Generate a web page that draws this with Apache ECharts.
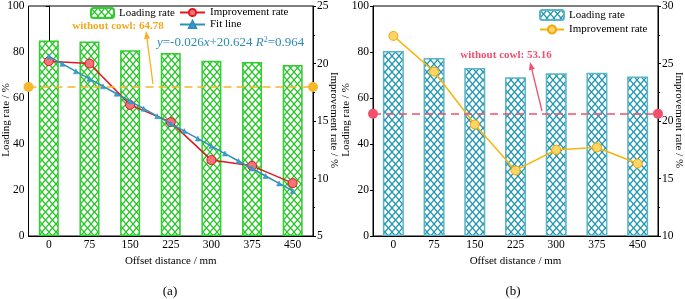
<!DOCTYPE html>
<html>
<head>
<meta charset="utf-8">
<script src="https://cdn.jsdelivr.net/npm/echarts@6/dist/echarts.min.js"></script>
<style>
  html, body { margin: 0; padding: 0; background: #fff; }
  #chart { width: 685px; height: 299px; }
</style>
</head>
<body>
<div id="chart"></div>
<script>
// offsets along x (mm)
const offsets = ['0', '75', '150', '225', '300', '375', '450'];

// (a) loading rate (%) and improvement rate (%)
const loadingA = [85.0, 84.6, 80.8, 79.6, 76.2, 75.6, 74.3];
const improveA = [20.2, 20.0, 16.4, 14.9, 11.6, 11.1, 9.6];
// fit line y=-0.026x+20.624, read at 25 mm steps
const fitX = [0, 25, 50, 75, 100, 125, 150, 175, 200, 225, 250, 275, 300, 325, 350, 375, 400, 425, 450];
const fitY = [20.62, 19.97, 19.32, 18.67, 18.02, 17.37, 16.72, 16.07, 15.42, 14.77, 14.12, 13.47, 12.82, 12.17, 11.52, 10.87, 10.22, 9.57, 8.92];
const baseA = 64.78;

// (b)
const loadingB = [80.4, 77.4, 73.0, 69.0, 70.8, 71.0, 69.4];
const improveB = [27.4, 24.3, 19.7, 15.7, 17.5, 17.7, 16.3];
const baseB = 53.16;

const font = 'Liberation Serif';
const names = {
  loadA: 'Loading rate', impA: 'Improvement rate', fitA: 'Fit line',
  loadB: 'Loading rate', impB: 'Improvement rate'
};

// cross hatch tile used as bar fill
function hatch(color) {
  const w = 7, h = 8;
  const c = document.createElement('canvas');
  c.width = w; c.height = h;
  const ctx = c.getContext('2d');
  ctx.fillStyle = '#fff';
  ctx.fillRect(0, 0, w, h);
  ctx.strokeStyle = color;
  ctx.lineWidth = 1.3;
  ctx.beginPath();
  ctx.moveTo(-w, -h); ctx.lineTo(2 * w, 2 * h);
  ctx.moveTo(2 * w, -h); ctx.lineTo(-w, 2 * h);
  ctx.stroke();
  return { image: c, repeat: 'repeat' };
}

function arrow(x1, y1, x2, y2, color) {
  const dx = x2 - x1, dy = y2 - y1;
  const len = Math.sqrt(dx * dx + dy * dy);
  const ux = dx / len, uy = dy / len;
  const bx = x2 - ux * 8, by = y2 - uy * 8;
  return [
    { type: 'line', shape: { x1: x1, y1: y1, x2: bx, y2: by }, style: { stroke: color, lineWidth: 1.3 } },
    { type: 'polygon', shape: { points: [[x2, y2], [bx - uy * 3, by + ux * 3], [bx + uy * 3, by - ux * 3]] }, style: { fill: color } }
  ];
}

// rotated axis titles
function vText(text, x, rot) {
  return {
    type: 'text', x: x, y: 120, rotation: rot,
    style: { text: text, fontFamily: font, fontSize: 11, fill: '#000', align: 'center', verticalAlign: 'middle' }
  };
}

const chart = echarts.init(document.getElementById('chart'));

const axisLine = { show: true, lineStyle: { color: '#000', width: 1 } };
const labelStyle = { color: '#000', fontFamily: font, fontSize: 11.5 };
const nameStyle = { color: '#000', fontFamily: font, fontSize: 11 };

function catAxis(grid) {
  return {
    type: 'category', gridIndex: grid, data: offsets,
    axisLine: axisLine, axisTick: { show: false },
    axisLabel: Object.assign({ margin: 3 }, labelStyle),
    name: 'Offset distance / mm', nameLocation: 'middle', nameGap: 18, nameTextStyle: nameStyle
  };
}
function leftAxis(grid) {
  return {
    type: 'value', gridIndex: grid, min: 0, max: 100, interval: 20, position: 'left',
    axisLine: axisLine, axisTick: { show: true, length: 3, lineStyle: { color: '#000' } },
    splitLine: { show: false },
    axisLabel: Object.assign({ margin: 4 }, labelStyle)
  };
}
function rightAxis(grid, min, max) {
  return {
    type: 'value', gridIndex: grid, min: min, max: max, interval: 5, position: 'right',
    axisLine: axisLine, axisTick: { show: true, length: 3, lineStyle: { color: '#000' } },
    minorTick: { show: true, splitNumber: 2, length: 2, lineStyle: { color: '#000' } },
    splitLine: { show: false },
    axisLabel: Object.assign({ margin: 4 }, labelStyle)
  };
}

const legendText = { fontFamily: font, fontSize: 11, color: '#000' };

const option = {
  animation: false,
  backgroundColor: '#fff',
  grid: [
    { left: 28.5, right: 372, top: 4, bottom: 63, show: true, borderColor: '#000', borderWidth: 1 },
    { left: 373, right: 27, top: 4, bottom: 63, show: true, borderColor: '#000', borderWidth: 1 }
  ],
  xAxis: [
    catAxis(0),
    { type: 'value', gridIndex: 0, min: -37.5, max: 487.5, show: false },
    catAxis(1)
  ],
  yAxis: [leftAxis(0), rightAxis(0, 5, 25), leftAxis(1), rightAxis(1, 10, 30)],
  legend: [
    {
      data: ['loadA'], left: 90, top: 7, padding: 0, itemWidth: 23, itemHeight: 10,
      formatter: n => names[n], textStyle: legendText
    },
    {
      data: ['impA', 'fitA'], orient: 'vertical', left: 179, top: 7, padding: 0, itemWidth: 25, itemHeight: 9, itemGap: 1,
      formatter: n => names[n], textStyle: legendText
    },
    {
      data: ['loadB', 'impB'], orient: 'vertical', left: 539, top: 9, padding: 0, itemWidth: 24, itemHeight: 10, itemGap: 3,
      formatter: n => names[n], textStyle: legendText
    }
  ],
  series: [
    {
      name: 'loadA', type: 'bar', xAxisIndex: 0, yAxisIndex: 0, data: loadingA, barWidth: 20,
      itemStyle: { color: hatch('#27c427'), borderColor: '#2fcf2f', borderWidth: 1.5 },
      markLine: {
        silent: true, symbol: ['circle', 'circle'], symbolSize: 10,
        label: { show: false },
        lineStyle: { color: '#f6b72a', type: [8, 5], width: 1.5 },
        itemStyle: { color: '#f0a812', borderColor: '#c88a00', borderWidth: 1 },
        data: [{ yAxis: baseA }]
      }
    },
    {
      name: 'impA', type: 'line', xAxisIndex: 0, yAxisIndex: 1, data: improveA, z: 4,
      symbol: 'circle', symbolSize: 9,
      lineStyle: { color: '#e0191c', width: 1.5 },
      itemStyle: { color: '#f5727c', borderColor: '#e0191c', borderWidth: 1 }
    },
    {
      name: 'fitA', type: 'line', xAxisIndex: 1, yAxisIndex: 1, z: 5,
      data: fitX.map((x, i) => [x, fitY[i]]),
      symbol: 'triangle', symbolSize: 5,
      lineStyle: { color: '#2f8fb9', width: 1.5 },
      itemStyle: { color: '#3d9ccc', borderColor: '#2f8fb9', borderWidth: 0.5 }
    },
    {
      name: 'loadB', type: 'bar', xAxisIndex: 2, yAxisIndex: 2, data: loadingB, barWidth: 21,
      itemStyle: { color: hatch('#2096ae'), borderColor: '#5ab4c8', borderWidth: 1.5 },
      markLine: {
        silent: true, symbol: ['circle', 'circle'], symbolSize: 10,
        label: { show: false },
        lineStyle: { color: '#f2506c', type: [8, 5], width: 1.5 },
        itemStyle: { color: '#f23a50', borderColor: '#d12035', borderWidth: 1 },
        data: [{ yAxis: baseB }]
      }
    },
    {
      name: 'impB', type: 'line', xAxisIndex: 2, yAxisIndex: 3, data: improveB, z: 4,
      symbol: 'circle', symbolSize: 9,
      lineStyle: { color: '#f5b50a', width: 1.5 },
      itemStyle: { color: '#fcd467', borderColor: '#f0a800', borderWidth: 1 }
    }
  ],
  graphic: [
    vText('Loading rate / %', 6, Math.PI / 2),
    vText('Improvement rate / %', 334, -Math.PI / 2),
    vText('Loading rate / %', 346, Math.PI / 2),
    vText('Improvement rate / %', 679, -Math.PI / 2),
    {
      type: 'text', x: 118, y: 26,
      style: { text: 'without cowl: 64.78', fontFamily: font, fontSize: 11, fontWeight: 'bold', fill: '#f2a81d', align: 'center', verticalAlign: 'middle' }
    },
    {
      type: 'text', x: 157, y: 43,
      style: {
        text: '{i|y}=-0.026{i|x}+20.624 {i|R}{s|2}=0.964',
        fontFamily: font, fontSize: 13, fill: '#2d8bb5', verticalAlign: 'middle',
        rich: {
          i: { fontFamily: font, fontSize: 13, fontStyle: 'italic', fill: '#2d8bb5' },
          s: { fontFamily: font, fontSize: 8, fill: '#2d8bb5', verticalAlign: 'top', padding: [0, 0, 6, 0] }
        }
      }
    },
    { type: 'group', children: arrow(153, 84, 146, 31, '#f5b123') },
    {
      type: 'text', x: 506, y: 55,
      style: { text: 'without cowl: 53.16', fontFamily: font, fontSize: 11, fontWeight: 'bold', fill: '#f0506e', align: 'center', verticalAlign: 'middle' }
    },
    { type: 'group', children: arrow(542, 111, 530, 62, '#f0506e') },
    {
      type: 'text', x: 170, y: 292,
      style: { text: '(a)', fontFamily: font, fontSize: 13, fill: '#000', align: 'center', verticalAlign: 'middle' }
    },
    {
      type: 'text', x: 513, y: 292,
      style: { text: '(b)', fontFamily: font, fontSize: 13, fill: '#000', align: 'center', verticalAlign: 'middle' }
    }
  ]
};

chart.setOption(option);
</script>
</body>
</html>
